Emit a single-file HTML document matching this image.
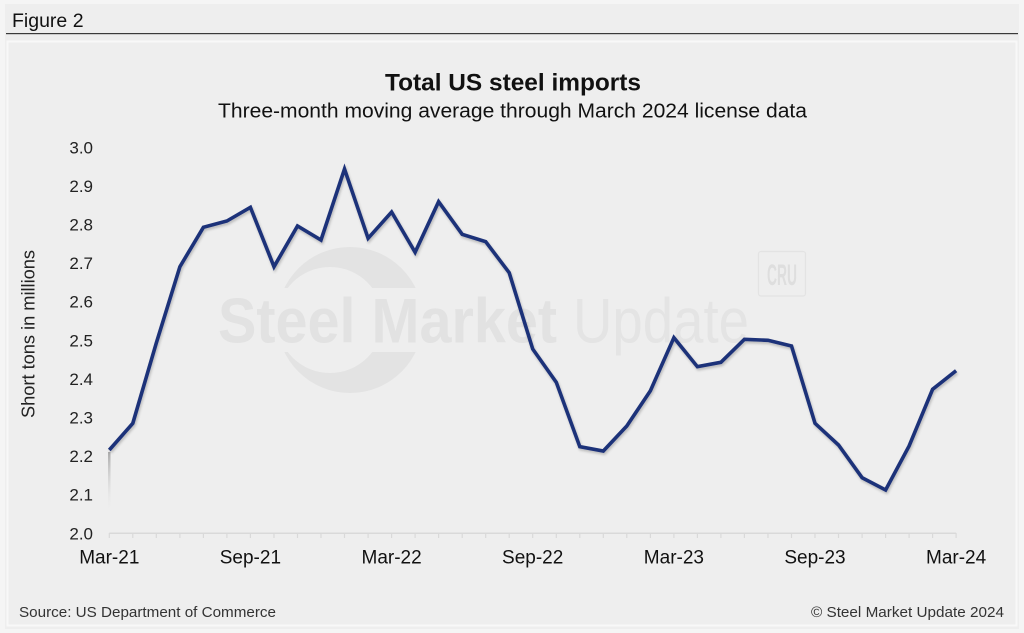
<!DOCTYPE html>
<html>
<head>
<meta charset="utf-8">
<style>
  html, body { margin: 0; padding: 0; background: #f5f5f5; }
  body { width: 1024px; height: 633px; overflow: hidden; }
  svg { display: block; }
  text { font-family: "Liberation Sans", Arial, sans-serif; }
</style>
</head>
<body>
<svg width="1024" height="633" viewBox="0 0 1024 633" xmlns="http://www.w3.org/2000/svg">
  <defs>
    <filter id="sh" x="-5%" y="-5%" width="110%" height="115%">
      <feDropShadow dx="1" dy="2" stdDeviation="1.4" flood-color="#000" flood-opacity="0.22"/>
    </filter>
    <linearGradient id="fade" x1="0" y1="0" x2="0" y2="1">
      <stop offset="0" stop-color="#9a9a9a" stop-opacity="0.8"/>
      <stop offset="1" stop-color="#eeeeee" stop-opacity="0"/>
    </linearGradient>
    <clipPath id="ringclip">
      <rect x="250" y="230" width="200" height="58"/>
      <rect x="250" y="352" width="200" height="60"/>
    </clipPath>
  </defs>

  <!-- outer background -->
  <rect x="0" y="0" width="1024" height="633" fill="#f5f5f5"/>
  <rect x="5" y="4" width="1014" height="625" fill="#eeeeee"/>

  <!-- Figure header -->
  <text x="12" y="27" font-size="19.5" fill="#111">Figure 2</text>
  <rect x="6" y="33" width="1012" height="1.2" fill="#3a3a3a"/>

  <!-- panel -->
  <rect x="7.5" y="41.5" width="1009" height="584" fill="#eeeeee" stroke="#f8f8f8" stroke-width="2"/>

  <!-- watermark crescent -->
  <g clip-path="url(#ringclip)">
    <path d="M 277 320 A 73 73 0 1 0 423 320 A 73 73 0 1 0 277 320 Z M 277 320 A 53 53 0 1 1 383 320 A 53 53 0 1 1 277 320 Z" fill="#e3e3e3" fill-rule="evenodd"/>
  </g>
  <!-- watermark text -->
  <text x="218" y="342.5" font-size="63" font-weight="bold" fill="#e2e2e2" textLength="339" lengthAdjust="spacingAndGlyphs">Steel Market</text>
  <text x="573" y="342.5" font-size="63" fill="#e4e4e4" textLength="176" lengthAdjust="spacingAndGlyphs">Update</text>
  <!-- CRU logo -->
  <rect x="758.5" y="251.5" width="47" height="44.5" rx="2.5" fill="none" stroke="#e3e3e3" stroke-width="1.2"/>
  <text x="767" y="285" font-size="30" font-weight="bold" fill="#dedede" textLength="30" lengthAdjust="spacingAndGlyphs">CRU</text>

  <!-- Title -->
  <text x="513" y="90.5" font-size="24" font-weight="bold" fill="#111" text-anchor="middle" textLength="256" lengthAdjust="spacingAndGlyphs">Total US steel imports</text>
  <text x="512.5" y="117.5" font-size="20.5" fill="#111" text-anchor="middle" textLength="589" lengthAdjust="spacingAndGlyphs">Three-month moving average through March 2024 license data</text>

  <!-- Y axis title -->
  <text transform="translate(34.5,334) rotate(-90)" font-size="18" fill="#222" text-anchor="middle" textLength="168" lengthAdjust="spacingAndGlyphs">Short tons in millions</text>

  <!-- Y tick labels -->
  <g font-size="17" fill="#222" text-anchor="end">
    <text x="93" y="153.3">3.0</text>
    <text x="93" y="191.9">2.9</text>
    <text x="93" y="230.5">2.8</text>
    <text x="93" y="269.1">2.7</text>
    <text x="93" y="307.7">2.6</text>
    <text x="93" y="346.3">2.5</text>
    <text x="93" y="384.9">2.4</text>
    <text x="93" y="423.5">2.3</text>
    <text x="93" y="462.1">2.2</text>
    <text x="93" y="500.7">2.1</text>
    <text x="93" y="539.3">2.0</text>
  </g>

  <!-- X axis -->
  <line x1="109.3" y1="533.3" x2="956.1" y2="533.3" stroke="#d9d9d9" stroke-width="1.5"/>
  <g stroke="#d9d9d9" stroke-width="1.2">
    <path d="M109.3 533v5 M132.8 533v5 M156.3 533v5 M179.9 533v5 M203.4 533v5 M226.9 533v5 M250.4 533v5 M274 533v5 M297.5 533v5 M321 533v5 M344.5 533v5 M368.1 533v5 M391.6 533v5 M415.1 533v5 M438.6 533v5 M462.2 533v5 M485.7 533v5 M509.2 533v5 M532.7 533v5 M556.3 533v5 M579.8 533v5 M603.3 533v5 M626.8 533v5 M650.4 533v5 M673.9 533v5 M697.4 533v5 M720.9 533v5 M744.4 533v5 M768 533v5 M791.5 533v5 M815 533v5 M838.5 533v5 M862.1 533v5 M885.6 533v5 M909.1 533v5 M932.6 533v5 M956.1 533v5"/>
  </g>

  <!-- X tick labels -->
  <g font-size="19" fill="#111" text-anchor="middle">
    <text x="109.3" y="563.5">Mar-21</text>
    <text x="250.4" y="563.5">Sep-21</text>
    <text x="391.6" y="563.5">Mar-22</text>
    <text x="532.7" y="563.5">Sep-22</text>
    <text x="673.9" y="563.5">Mar-23</text>
    <text x="815" y="563.5">Sep-23</text>
    <text x="956.1" y="563.5">Mar-24</text>
  </g>

  <!-- odd fading artifact under first point -->
  <rect x="108" y="452" width="2.5" height="62" fill="url(#fade)"/>

  <!-- Data line -->
  <polyline filter="url(#sh)" fill="none" stroke="#1e3179" stroke-width="3.6" stroke-linejoin="miter" stroke-miterlimit="4" stroke-linecap="butt"
    points="109.3,450 132.8,423.3 156.3,343 179.9,266.7 203.4,227.3 226.9,221 250.4,207.3 274,266.7 297.5,226 321,240 344.5,169 368.1,238.3 391.6,212 415.1,252.3 438.6,201.7 462.2,234.3 485.7,241.7 509.2,272.7 532.7,349 556.3,382.3 579.8,446.7 603.3,451 626.8,426 650.4,390.7 673.9,337.7 697.4,366.7 720.9,362.3 744.4,339.3 768,340.3 791.5,346 815,423.3 838.5,445 862.1,477.7 885.6,490 909.1,446 932.6,389.3 956.1,370.7"/>

  <!-- Footer -->
  <text x="19" y="617" font-size="15" fill="#333" textLength="257" lengthAdjust="spacingAndGlyphs">Source: US Department of Commerce</text>
  <text x="1004" y="617" font-size="15" fill="#333" text-anchor="end" textLength="193" lengthAdjust="spacingAndGlyphs">© Steel Market Update 2024</text>
</svg>
</body>
</html>
